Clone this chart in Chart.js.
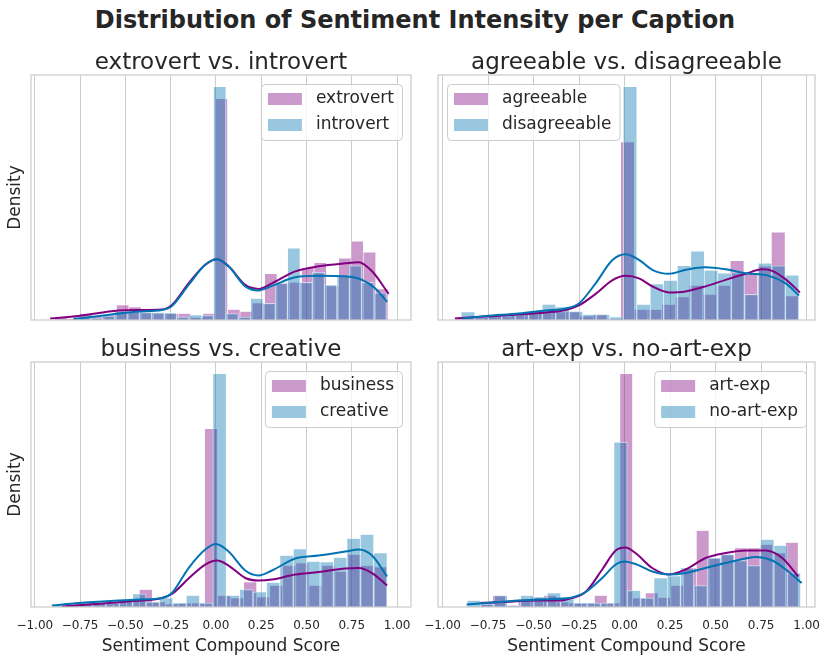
<!DOCTYPE html>
<html>
<head>
<meta charset="utf-8">
<script src="https://cdn.jsdelivr.net/npm/chart.js"></script>
<style>
  body { margin: 0; background: #fff; }
  #wrap { position: relative; width: 830px; height: 662px; }
  #suptitle {
    position: absolute; left: 0; top: 5px; width: 830px; text-align: center;
    font: bold 24px "DejaVu Sans", sans-serif; color: #262626; line-height: 30px;
  }
  canvas { position: absolute; }
</style>
</head>
<body>
<div id="wrap">
  <div id="suptitle">Distribution of Sentiment Intensity per Caption</div>
  <canvas id="c1" width="420" height="285" style="left:0;top:40px"></canvas>
  <canvas id="c2" width="410" height="285" style="left:420px;top:40px"></canvas>
  <canvas id="c3" width="420" height="335" style="left:0;top:327px"></canvas>
  <canvas id="c4" width="410" height="335" style="left:420px;top:327px"></canvas>
</div>
<script>
// x ticks shared by all panels
const tickValues = [-1.0, -0.75, -0.5, -0.25, 0.0, 0.25, 0.5, 0.75, 1.0];
const tickLabels = ['−1.00', '−0.75', '−0.50', '−0.25', '0.00', '0.25', '0.50', '0.75', '1.00'];

// extrovert vs. introvert (bin centres / density)
const extrovertBins = [-0.855, -0.787, -0.719, -0.651, -0.583, -0.515, -0.447, -0.379, -0.310, -0.242, -0.174, -0.106, -0.038, 0.030, 0.099, 0.167, 0.235, 0.303, 0.371, 0.439, 0.507, 0.576, 0.644, 0.712, 0.780, 0.848, 0.916];
const extrovertDensity = [0.05, 0.03, 0.13, 0.07, 0.10, 0.30, 0.26, 0.15, 0.13, 0.13, 0.13, 0.05, 0.13, 4.41, 0.21, 0.17, 0.34, 0.92, 0.75, 0.75, 1.04, 1.14, 0.68, 1.23, 1.57, 1.35, 0.62];
const introvertBins = [-0.728, -0.660, -0.592, -0.524, -0.456, -0.388, -0.320, -0.251, -0.183, -0.115, -0.047, 0.021, 0.089, 0.158, 0.226, 0.294, 0.362, 0.430, 0.498, 0.566, 0.634, 0.703, 0.771, 0.839, 0.907];
const introvertDensity = [0.06, 0.04, 0.08, 0.17, 0.17, 0.15, 0.15, 0.14, 0.06, 0.10, 0.09, 4.65, 0.13, 0.06, 0.43, 0.33, 0.73, 1.43, 0.75, 0.95, 0.70, 0.89, 1.08, 0.75, 0.54];
const extrovertKdeX = [-0.915, -0.759, -0.538, -0.427, -0.298, -0.243, -0.151, -0.059, 0.006, 0.070, 0.162, 0.236, 0.309, 0.438, 0.567, 0.715, 0.788, 0.862, 0.954];
const extrovertKdeY = [0.03, 0.08, 0.19, 0.20, 0.21, 0.30, 0.73, 1.10, 1.21, 1.07, 0.70, 0.62, 0.73, 0.97, 1.07, 1.13, 1.15, 0.97, 0.52];
const introvertKdeX = [-0.786, -0.667, -0.538, -0.427, -0.298, -0.243, -0.151, -0.059, 0.006, 0.070, 0.162, 0.236, 0.309, 0.438, 0.567, 0.715, 0.807, 0.880, 0.945];
const introvertKdeY = [0.02, 0.07, 0.13, 0.17, 0.20, 0.28, 0.70, 1.10, 1.21, 1.07, 0.67, 0.59, 0.68, 0.85, 0.88, 0.87, 0.80, 0.63, 0.36];

// agreeable vs. disagreeable
const agreeableBins = [-0.888, -0.812, -0.737, -0.662, -0.587, -0.511, -0.436, -0.361, -0.285, -0.210, -0.135, -0.060, 0.016, 0.091, 0.166, 0.242, 0.317, 0.392, 0.467, 0.543, 0.618, 0.693, 0.768, 0.844, 0.919];
const agreeableDensity = [0.04, 0.04, 0.08, 0.07, 0.10, 0.12, 0.16, 0.16, 0.17, 0.08, 0.11, 0.02, 3.55, 0.21, 0.21, 0.31, 0.46, 0.69, 0.51, 0.69, 1.18, 0.94, 1.07, 1.75, 0.48];
const disagreeableBins = [-0.860, -0.786, -0.712, -0.638, -0.564, -0.490, -0.415, -0.341, -0.267, -0.193, -0.119, -0.044, 0.030, 0.104, 0.178, 0.252, 0.327, 0.401, 0.475, 0.549, 0.623, 0.697, 0.772, 0.846, 0.920];
const disagreeableDensity = [0.16, 0.06, 0.10, 0.10, 0.11, 0.17, 0.31, 0.26, 0.17, 0.11, 0.11, 0.06, 4.65, 0.31, 0.72, 0.79, 1.08, 1.37, 0.99, 0.93, 0.94, 0.51, 1.13, 1.08, 0.89];
const agreeableKdeX = [-0.932, -0.764, -0.581, -0.434, -0.324, -0.251, -0.159, -0.068, 0.005, 0.079, 0.152, 0.244, 0.335, 0.445, 0.555, 0.665, 0.756, 0.811, 0.885, 0.963];
const agreeableKdeY = [0.03, 0.07, 0.11, 0.15, 0.20, 0.29, 0.52, 0.79, 0.88, 0.83, 0.67, 0.55, 0.57, 0.67, 0.80, 0.92, 1.01, 0.98, 0.81, 0.55];
const disagreeableKdeX = [-0.892, -0.764, -0.581, -0.434, -0.324, -0.251, -0.159, -0.068, 0.005, 0.079, 0.152, 0.244, 0.335, 0.445, 0.555, 0.665, 0.793, 0.885, 0.958];
const disagreeableKdeY = [0.03, 0.08, 0.13, 0.19, 0.23, 0.33, 0.73, 1.19, 1.31, 1.20, 1.00, 0.92, 1.00, 1.05, 1.01, 0.93, 0.88, 0.73, 0.49];

// business vs. creative
const businessBins = [-0.818, -0.746, -0.674, -0.602, -0.530, -0.458, -0.387, -0.315, -0.243, -0.171, -0.099, -0.027, 0.045, 0.117, 0.189, 0.261, 0.333, 0.405, 0.477, 0.549, 0.621, 0.693, 0.765, 0.837, 0.909];
const businessDensity = [0.02, 0.06, 0.07, 0.06, 0.10, 0.14, 0.35, 0.10, 0.06, 0.08, 0.08, 3.57, 0.23, 0.18, 0.50, 0.20, 0.43, 0.83, 0.88, 0.43, 0.83, 0.71, 1.05, 0.83, 0.80];
const creativeBins = [-0.867, -0.793, -0.719, -0.645, -0.571, -0.497, -0.423, -0.349, -0.275, -0.201, -0.127, -0.054, 0.020, 0.094, 0.168, 0.242, 0.316, 0.390, 0.464, 0.538, 0.612, 0.686, 0.760, 0.834, 0.908];
const creativeDensity = [0.03, 0.06, 0.10, 0.08, 0.08, 0.14, 0.26, 0.10, 0.18, 0.08, 0.23, 0.08, 4.67, 0.23, 0.35, 0.30, 0.49, 1.03, 1.16, 0.91, 0.90, 0.99, 1.37, 1.45, 1.08];
const businessKdeX = [-0.851, -0.667, -0.483, -0.298, -0.243, -0.151, -0.059, 0.006, 0.070, 0.162, 0.236, 0.309, 0.438, 0.567, 0.715, 0.788, 0.862, 0.945];
const businessKdeY = [0.01, 0.06, 0.11, 0.18, 0.26, 0.57, 0.85, 0.93, 0.83, 0.58, 0.53, 0.55, 0.65, 0.70, 0.77, 0.78, 0.68, 0.43];
const creativeKdeX = [-0.906, -0.759, -0.538, -0.427, -0.298, -0.243, -0.151, -0.059, 0.000, 0.070, 0.162, 0.236, 0.309, 0.438, 0.567, 0.715, 0.788, 0.862, 0.945];
const creativeKdeY = [0.03, 0.08, 0.13, 0.15, 0.18, 0.28, 0.78, 1.15, 1.26, 1.11, 0.73, 0.63, 0.73, 0.97, 1.03, 1.11, 1.15, 1.03, 0.61];

// art-exp vs. no-art-exp
const artBins = [-0.760, -0.690, -0.620, -0.550, -0.480, -0.410, -0.341, -0.271, -0.201, -0.131, -0.061, 0.009, 0.079, 0.149, 0.219, 0.289, 0.359, 0.429, 0.499, 0.569, 0.639, 0.709, 0.779, 0.849, 0.919];
const artDensity = [0.11, 0.23, 0.03, 0.16, 0.19, 0.23, 0.10, 0.08, 0.08, 0.23, 0.08, 4.67, 0.18, 0.28, 0.19, 0.43, 0.78, 1.53, 0.98, 1.05, 1.18, 1.18, 1.25, 1.08, 1.29];
const noArtBins = [-0.828, -0.755, -0.681, -0.608, -0.535, -0.462, -0.388, -0.315, -0.242, -0.169, -0.095, -0.022, 0.051, 0.125, 0.198, 0.271, 0.344, 0.418, 0.491, 0.564, 0.637, 0.711, 0.784, 0.857, 0.930];
const noArtDensity = [0.13, 0.06, 0.23, 0.03, 0.23, 0.20, 0.28, 0.16, 0.08, 0.08, 0.08, 3.30, 0.33, 0.18, 0.58, 0.62, 0.78, 0.43, 0.98, 1.05, 0.93, 0.83, 1.35, 1.23, 0.68];
const artKdeX = [-0.791, -0.672, -0.489, -0.361, -0.288, -0.214, -0.123, -0.049, 0.005, 0.060, 0.152, 0.244, 0.335, 0.445, 0.555, 0.665, 0.775, 0.866, 0.954];
const artKdeY = [0.08, 0.10, 0.13, 0.13, 0.18, 0.30, 0.75, 1.13, 1.19, 1.08, 0.78, 0.65, 0.75, 0.98, 1.08, 1.13, 1.13, 0.98, 0.61];
const noArtKdeX = [-0.868, -0.764, -0.581, -0.397, -0.288, -0.214, -0.123, -0.049, -0.004, 0.060, 0.152, 0.244, 0.335, 0.445, 0.555, 0.665, 0.720, 0.811, 0.885, 0.973];
const noArtKdeY = [0.05, 0.08, 0.13, 0.16, 0.19, 0.30, 0.58, 0.85, 0.91, 0.86, 0.71, 0.65, 0.68, 0.78, 0.88, 0.97, 1.00, 0.93, 0.75, 0.48];

const PURPLE = '#800080', PURPLE_FILL = 'rgba(128,0,128,0.4)';
const BLUE = '#0173b2', BLUE_FILL = 'rgba(1,115,178,0.4)';
const FONT = '"DejaVu Sans", sans-serif';
const TEXT = '#262626';

Chart.defaults.font.family = FONT;
Chart.defaults.color = TEXT;

const pts = (xs, ys) => xs.map((x, i) => ({ x, y: ys[i] }));

// grey box around each axes
const frame = {
  id: 'frame',
  afterDatasetsDraw(chart) {
    const { ctx, chartArea: a } = chart;
    ctx.save();
    ctx.strokeStyle = '#cccccc';
    ctx.lineWidth = 1.25;
    ctx.strokeRect(a.left, a.top, a.right - a.left, a.bottom - a.top);
    ctx.restore();
  }
};

// subplot title centred over the axes (not over the whole canvas)
const axesTitle = {
  id: 'axesTitle',
  afterDraw(chart, args, opts) {
    const { ctx, chartArea: a } = chart;
    ctx.save();
    ctx.font = '23px ' + FONT;
    ctx.fillStyle = TEXT;
    ctx.textAlign = 'center';
    ctx.textBaseline = 'alphabetic';
    ctx.fillText(opts.text, (a.left + a.right) / 2, a.top - 6);
    ctx.restore();
  }
};

// matplotlib-like legend inside the axes, only the histogram patches
const patchLegend = {
  id: 'patchLegend',
  afterDraw(chart, args, opts) {
    const { ctx, chartArea: a } = chart;
    const items = chart.data.datasets.filter(d => d.type === 'bar');
    ctx.save();
    ctx.font = '17px ' + FONT;
    const tw = Math.max(...items.map(d => ctx.measureText(d.label).width));
    const w = 7 + 34 + 14 + tw + 8, h = 56;
    const x = opts.side === 'left' ? a.left + 9 : a.right - 9 - w;
    const y = a.top + 9;
    ctx.beginPath();
    if (ctx.roundRect) ctx.roundRect(x + 0.5, y + 0.5, w, h, 4); else ctx.rect(x + 0.5, y + 0.5, w, h);
    ctx.fillStyle = 'rgba(255,255,255,0.8)';
    ctx.fill();
    ctx.strokeStyle = '#cccccc';
    ctx.lineWidth = 1;
    ctx.stroke();
    items.forEach((d, i) => {
      const cy = y + 15 + i * 26;
      ctx.fillStyle = d.backgroundColor;
      ctx.fillRect(x + 7, cy - 6, 34, 12);
      ctx.fillStyle = TEXT;
      ctx.textBaseline = 'middle';
      ctx.textAlign = 'left';
      ctx.fillText(d.label, x + 55, cy);
    });
    ctx.restore();
  }
};

const panels = [
  { id: 'c1', title: 'extrovert vs. introvert', side: 'right', col: 0, bottom: false,
    a: ['extrovert', extrovertBins, extrovertDensity, extrovertKdeX, extrovertKdeY],
    b: ['introvert', introvertBins, introvertDensity, introvertKdeX, introvertKdeY] },
  { id: 'c2', title: 'agreeable vs. disagreeable', side: 'left', col: 1, bottom: false,
    a: ['agreeable', agreeableBins, agreeableDensity, agreeableKdeX, agreeableKdeY],
    b: ['disagreeable', disagreeableBins, disagreeableDensity, disagreeableKdeX, disagreeableKdeY] },
  { id: 'c3', title: 'business vs. creative', side: 'right', col: 0, bottom: true,
    a: ['business', businessBins, businessDensity, businessKdeX, businessKdeY],
    b: ['creative', creativeBins, creativeDensity, creativeKdeX, creativeKdeY] },
  { id: 'c4', title: 'art-exp vs. no-art-exp', side: 'right', col: 1, bottom: true,
    a: ['art-exp', artBins, artDensity, artKdeX, artKdeY],
    b: ['no-art-exp', noArtBins, noArtDensity, noArtKdeX, noArtKdeY] }
];

// shared x range per column (sharex='col')
const xRange = [[-1.021, 1.077], [-1.025, 1.046]];

panels.forEach(p => {
  const [xMin, xMax] = xRange[p.col];
  const yMax = 1.05 * Math.max(...p.a[2], ...p.b[2]);
  const barStyle = {
    borderColor: 'rgba(255,255,255,0.7)',
    borderWidth: { top: 0.6, left: 0.6, right: 0.6, bottom: 0 },
    categoryPercentage: 1, barPercentage: 1, grouped: false
  };
  const xAxis = {
    type: 'linear', min: xMin, max: xMax, offset: false,
    afterBuildTicks: s => { s.ticks = tickValues.map(v => ({ value: v })); },
    afterFit: s => { s.height = p.bottom ? 55 : 5; },
    // invisible tick marks push the labels down without widening the label padding
    grid: { color: '#cccccc', lineWidth: 1, drawTicks: p.bottom, tickLength: 12,
            tickColor: 'rgba(0,0,0,0)', offset: false },
    border: { display: false },
    ticks: { display: p.bottom, padding: 0, font: { size: 12 }, color: TEXT,
             autoSkip: false, maxRotation: 0, callback: (v, i) => tickLabels[i] },
    title: { display: p.bottom, text: 'Sentiment Compound Score', font: { size: 17 },
             color: TEXT, padding: { top: 0, bottom: 5 } }
  };
  new Chart(document.getElementById(p.id), {
    type: 'bar',
    data: {
      datasets: [
        Object.assign({ type: 'bar', label: p.a[0], data: pts(p.a[1], p.a[2]),
          backgroundColor: PURPLE_FILL, xAxisID: 'x', order: 4 }, barStyle),
        Object.assign({ type: 'bar', label: p.b[0], data: pts(p.b[1], p.b[2]),
          backgroundColor: BLUE_FILL, xAxisID: 'x2', order: 3 }, barStyle),
        { type: 'line', label: p.a[0] + ' kde', data: pts(p.a[3], p.a[4]), xAxisID: 'x',
          borderColor: PURPLE, borderWidth: 2, pointRadius: 0, cubicInterpolationMode: 'monotone', order: 2 },
        { type: 'line', label: p.b[0] + ' kde', data: pts(p.b[3], p.b[4]), xAxisID: 'x',
          borderColor: BLUE, borderWidth: 2, pointRadius: 0, cubicInterpolationMode: 'monotone', order: 1 }
      ]
    },
    options: {
      responsive: false,
      animation: false,
      devicePixelRatio: 1,
      layout: { padding: { left: 0, right: p.col === 0 ? 9 : 15, top: 35, bottom: 0 } },
      scales: {
        x: xAxis,
        x2: { type: 'linear', min: xMin, max: xMax, display: false, offset: false },
        y: {
          type: 'linear', min: 0, max: yMax, display: true,
          afterFit: s => { s.width = p.col === 0 ? 31 : 18; },
          grid: { display: false }, border: { display: false },
          ticks: { display: false },
          title: { display: p.col === 0, text: 'Density', font: { size: 17 }, color: TEXT, padding: { top: 5, bottom: 0 } }
        }
      },
      plugins: {
        legend: { display: false },
        tooltip: { enabled: false },
        title: { display: false },
        axesTitle: { text: p.title },
        patchLegend: { side: p.side }
      }
    },
    plugins: [frame, axesTitle, patchLegend]
  });
});
</script>
</body>
</html>
